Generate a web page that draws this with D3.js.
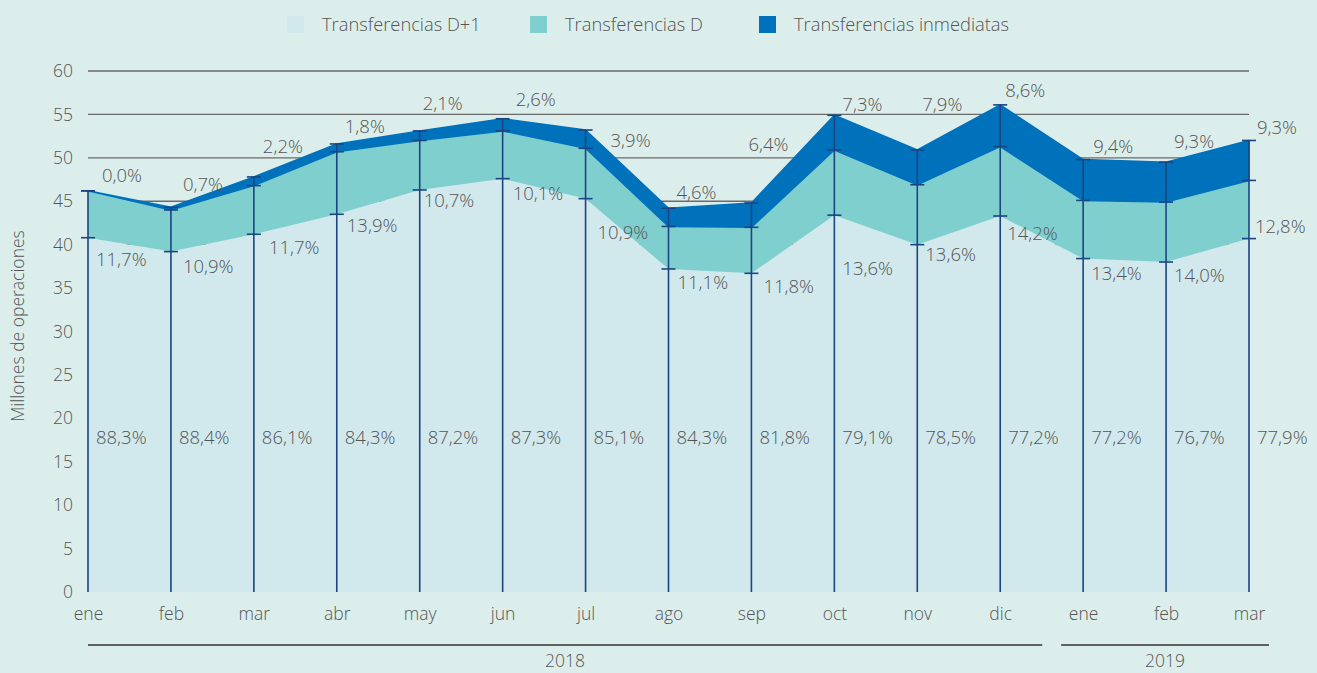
<!DOCTYPE html>
<html>
<head>
<meta charset="utf-8">
<script src="https://cdn.jsdelivr.net/npm/d3@7"></script>
<style>
  html, body { margin: 0; padding: 0; background: #dceeec; }
  svg { display: block; font-family: "Open Sans", sans-serif; }
</style>
</head>
<body>
<svg id="chart" width="1317" height="673"></svg>
<script>
// ---- Data ----
const months = ["ene","feb","mar","abr","may","jun","jul","ago","sep","oct","nov","dic","ene","feb","mar"];
const years = ["2018", "2019"];
const yearSpans = [[0, 11], [12, 14]];
const seriesNames = ["Transferencias D+1", "Transferencias D", "Transferencias inmediatas"];
const d1Values  = [40.8, 39.2, 41.2, 43.5, 46.3, 47.6, 45.3, 37.2, 36.7, 43.4, 40.0, 43.3, 38.4, 38.0, 40.7];
const dValues   = [5.4, 4.8, 5.6, 7.2, 5.7, 5.5, 5.8, 4.9, 5.3, 7.5, 6.9, 8.0, 6.7, 6.9, 6.7];
const inmValues = [0.0, 0.3, 1.0, 0.9, 1.1, 1.4, 2.1, 2.1, 2.8, 4.0, 4.0, 4.8, 4.7, 4.6, 4.6];
const pctD1  = ["88,3%","88,4%","86,1%","84,3%","87,2%","87,3%","85,1%","84,3%","81,8%","79,1%","78,5%","77,2%","77,2%","76,7%","77,9%"];
const pctD   = ["11,7%","10,9%","11,7%","13,9%","10,7%","10,1%","10,9%","11,1%","11,8%","13,6%","13,6%","14,2%","13,4%","14,0%","12,8%"];
const pctInm = ["0,0%","0,7%","2,2%","1,8%","2,1%","2,6%","3,9%","4,6%","6,4%","7,3%","7,9%","8,6%","9,4%","9,3%","9,3%"];
const yTicks = [0,5,10,15,20,25,30,35,40,45,50,55,60];
const yTitle = "Millones de operaciones";

// ---- Styles ----
const colors = ["#d1e9ed", "#7fcfcf", "#0071bb"];
const lineColor = "#1b4482";
const textColor = "#555555";
const gridColor = "#6a6a6a";

// label offsets (presentation only): [dx from line, dy from boundary]
const inmOff = [[14,-15],[12,-23],[9,-30],[8,-17],[3,-27],[13,-19],[25,10],[8,-16],[-3,-58],[8,-11],[5,-45],[5,-14],[10,-13],[8,-21],[8,-13]];
const dOff   = [[8,22],[12,15],[15,13],[10,11],[4,11],[10,15],[12,34],[9,14],[12,13],[8,53],[8,10],[7,18],[8,15],[8,13],[6,-12]];

const svg = d3.select("#chart");
const W = 1317, H = 673;
svg.append("rect").attr("width", W).attr("height", H).attr("fill", "#dceeec");

const idx = d3.range(months.length);
const x = d3.scalePoint().domain(idx).range([88, 1249]);
const y = d3.scaleLinear().domain([0, 60]).range([592, 71]);

const rows = idx.map(i => ({ i, d1: d1Values[i], d: dValues[i], inm: inmValues[i] }));
const stack = d3.stack().keys(["d1", "d", "inm"]);
const layers = stack(rows);

// gridlines
svg.append("g").selectAll("line").data(yTicks.filter(t => t > 0)).join("line")
  .attr("x1", x(0)).attr("x2", x(idx.length - 1))
  .attr("y1", d => y(d)).attr("y2", d => y(d))
  .attr("stroke", gridColor).attr("stroke-width", 1.4);

// areas
const area = d3.area()
  .x(d => x(d.data.i))
  .y0(d => y(d[0]))
  .y1(d => y(d[1]));
svg.append("g").selectAll("path").data(layers).join("path")
  .attr("d", area)
  .attr("fill", (d, k) => colors[k])
  .attr("stroke", (d, k) => k === 2 ? colors[2] : "none")
  .attr("stroke-width", 1.5)
  .attr("stroke-linejoin", "round");

// vertical lines with caps
const vg = svg.append("g");
rows.forEach((r, k) => {
  const cx = x(r.i);
  const top = layers[2][k][1];
  vg.append("line").attr("x1", cx).attr("x2", cx).attr("y1", y(0)).attr("y2", y(top))
    .attr("stroke", lineColor).attr("stroke-width", 1.6);
  [layers[0][k][1], layers[1][k][1], layers[2][k][1]].forEach(v => {
    vg.append("line").attr("x1", cx - 7).attr("x2", cx + 7).attr("y1", y(v)).attr("y2", y(v))
      .attr("stroke", lineColor).attr("stroke-width", 1.6);
  });
});

// value labels
const lg = svg.append("g").attr("font-size", 18.5).attr("fill", textColor).attr("font-weight", 300);
rows.forEach((r, k) => {
  const cx = x(r.i);
  lg.append("text").attr("x", cx + 8).attr("y", y(17.8)).attr("dy", "0.35em").text(pctD1[k]);
  lg.append("text").attr("x", cx + dOff[k][0]).attr("y", y(layers[0][k][1]) + dOff[k][1]).attr("dy", "0.35em").text(pctD[k]);
  lg.append("text").attr("x", cx + inmOff[k][0]).attr("y", y(layers[2][k][1]) + inmOff[k][1]).attr("dy", "0.35em").text(pctInm[k]);
});

// y axis
const yAxis = svg.append("g").attr("transform", "translate(76,0)")
  .call(d3.axisLeft(y).tickValues(yTicks).tickSize(0).tickPadding(3));
yAxis.select(".domain").remove();
yAxis.selectAll("text").attr("font-size", 17.5).attr("fill", textColor).attr("font-family", "Open Sans, sans-serif").attr("font-weight", 300);

// x axis
const xAxis = svg.append("g").attr("transform", `translate(0,${y(0)})`)
  .call(d3.axisBottom(x).tickFormat(i => months[i]).tickSize(0).tickPadding(16));
xAxis.select(".domain").remove();
xAxis.selectAll("text").attr("font-size", 17.5).attr("fill", textColor).attr("font-family", "Open Sans, sans-serif").attr("font-weight", 300);

// year brackets
yearSpans.forEach((s, k) => {
  const x1 = k === 0 ? x(s[0]) : x(s[0]) - 22;
  const x2 = k === 0 ? x(s[1]) + 42 : x(s[1]) + 20;
  svg.append("line").attr("x1", x1).attr("x2", x2).attr("y1", 645).attr("y2", 645)
    .attr("stroke", "#333").attr("stroke-width", 1.3);
  svg.append("text").attr("x", (x1 + x2) / 2).attr("y", 661).attr("dy", "0.35em")
    .attr("text-anchor", "middle").attr("font-size", 17.5).attr("fill", textColor).attr("font-weight", 300)
    .text(years[k]);
});

// y title
svg.append("text").attr("transform", "translate(18,326) rotate(-90)")
  .attr("text-anchor", "middle").attr("dy", "0.35em")
  .attr("font-size", 17.5).attr("fill", textColor).attr("font-weight", 300)
  .text(yTitle);

// legend
const legendX = [287, 530, 759];
const leg = svg.append("g");
seriesNames.forEach((n, k) => {
  leg.append("rect").attr("x", legendX[k]).attr("y", 16).attr("width", 17).attr("height", 17).attr("fill", colors[k]);
  leg.append("text").attr("x", legendX[k] + 35).attr("y", 25).attr("dy", "0.35em")
    .attr("font-size", 18.3).attr("fill", textColor).attr("font-weight", 300).text(n);
});
</script>
</body>
</html>
